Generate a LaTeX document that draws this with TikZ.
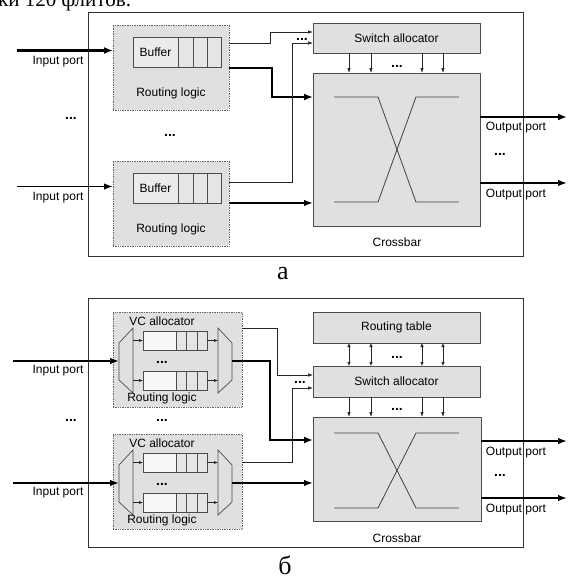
\documentclass[tikz,border=0pt]{standalone}
\usepackage{fontspec}
\setmainfont{Liberation Sans}
\newfontfamily\serifcyr{Liberation Serif}
\usetikzlibrary{arrows.meta}
\newcommand\rectnode[6]{\node[#1, anchor=north west, inner sep=0pt, outer sep=0pt, minimum width={(#5)-(#3)}, minimum height={(#6)-(#4)}] (#2) at (#3,#4) {};}
\newcommand\BufPort[2]{%
\begin{scope}[shift={(0,#2)}]
\rectnode{portbox}{#1}{113}{0}{229}{85}
\rectnode{qlab}{#1b}{133}{12}{178}{42}
\rectnode{qcell}{#1c1}{178}{12}{193}{42}
\rectnode{qcell}{#1c2}{193}{12}{207}{42}
\rectnode{qcell}{#1c3}{207}{12}{221}{42}
\node[lbl] at (#1b.center) {Buffer};
\node[lbl] (#1rl) at (171,68) {Routing logic};
\coordinate (#1src) at (17,25.5);
\node[lbl] (#1ip) at (58,37) {Input port};
\end{scope}}
\newcommand\VCPort[2]{%
\begin{scope}[shift={(0,#2)}]
\rectnode{portbox}{#1}{113}{0}{242}{95}
\node[lbl] (#1vc) at (162,9.5) {VC allocator};
\draw[unit] (119,31) -- (133,16) -- (133,81) -- (119,68) -- cycle;
\draw[unit] (218,16) -- (232,31) -- (232,68) -- (218,81) -- cycle;
\coordinate (#1dmx) at (119,49);
\coordinate (#1mx) at (232,49);
\rectnode{qwhite}{#1qa}{143}{19}{176}{38}
\rectnode{qcell}{#1qa1}{176}{19}{186}{38}
\rectnode{qcell}{#1qa2}{186}{19}{197}{38}
\rectnode{qcell}{#1qa3}{197}{19}{207}{38}
\rectnode{qwhite}{#1qb}{143}{59}{176}{78}
\rectnode{qcell}{#1qb1}{176}{59}{186}{78}
\rectnode{qcell}{#1qb2}{186}{59}{197}{78}
\rectnode{qcell}{#1qb3}{197}{59}{207}{78}
\coordinate (#1d1) at (133,28.5);
\coordinate (#1d2) at (133,68.5);
\coordinate (#1m1) at (218,28.5);
\coordinate (#1m2) at (218,68.5);
\draw[tinyarr] (#1d1) -- (#1qa.west |- #1d1);
\draw[tinyarr] (#1d2) -- (#1qb.west |- #1d2);
\draw[tinyarr] (#1qa3.east |- #1m1) -- (#1m1);
\draw[tinyarr] (#1qb3.east |- #1m2) -- (#1m2);
\node[dots] at (162,50) {...};
\node[lbl] (#1rl) at (162,86) {Routing logic};
\coordinate (#1src) at (13,49);
\node[lbl] (#1ip) at (58,59) {Input port};
\end{scope}}
\begin{document}
\begin{tikzpicture}[x=1pt,y=-1pt,
  font=\fontsize{12}{14}\selectfont,
  outer/.style={draw=black!80, line width=0.8pt},
  portbox/.style={draw=black!60, densely dotted, fill=black!12, line width=0.7pt},
  unit/.style={draw=black!70, fill=black!12, line width=0.7pt},
  qlab/.style={draw=black!70, fill=black!8, line width=0.6pt},
  qwhite/.style={draw=black!70, fill=black!3, line width=0.6pt},
  qcell/.style={draw=black!70, fill=black!10, line width=0.6pt},
  xline/.style={draw=black!75, line width=0.8pt},
  thinarr/.style={draw=black!85, line width=0.6pt, -{Latex[length=5pt,width=3.5pt]}},
  thinline/.style={draw=black!85, line width=0.6pt},
  tinyarr/.style={draw=black!85, line width=0.5pt, -{Latex[length=4pt,width=3pt]}},
  dblarr/.style={draw=black!85, line width=0.6pt, {Latex[length=4pt,width=3.5pt]}-{Latex[length=4pt,width=3.5pt]}},
  thickarr/.style={line width=2.3pt, -{Latex[length=9pt,width=7pt]}},
  medarr/.style={line width=1.6pt, -{Latex[length=9pt,width=6.5pt]}},
  lbl/.style={inner sep=0pt},
  dots/.style={inner sep=0pt, font=\bfseries\fontsize{14}{16}\selectfont},
  captxt/.style={inner sep=0pt, font=\serifcyr\fontsize{26}{28}\selectfont}]
\useasboundingbox (0,0) rectangle (571,582);
\clip (0,0) rectangle (571,582);
\fill[white] (0,0) rectangle (571,582);
\node[anchor=base west, inner sep=0pt, font=\serifcyr\fontsize{21}{24}\selectfont] (toptext) at (-2,6) {ки 120 флитов.};

% ================= panel a =================
\rectnode{outer}{outA}{88}{12}{523}{256}
\BufPort{pA1}{25}
\BufPort{pA2}{161}
\rectnode{unit}{saA}{313}{23}{480}{53}
\node[lbl] at (saA.center) {Switch allocator};
\rectnode{unit}{cbA}{313}{73}{480}{226}
\node[lbl] (cbAl) at (397,242) {Crossbar};
\draw[xline] (334,97) -- (378,97) -- (416,202) -- (459,202);
\draw[xline] (459,97) -- (416,97) -- (378,202) -- (334,202);
\foreach \x in {349,371,422,443} \draw[thinarr] (saA.south -| \x,0) -- (cbA.north -| \x,0);
\node[dots] at (397,66) {...};
% inputs
\draw[thickarr] (pA1src) -- (pA1src -| pA1.west);
\draw[medarr] (pA2src) -- (pA2src -| pA2.west);
\node[dots] at (71,118) {...};
\node[dots] at (170,135) {...};
% connectors
\coordinate (saAi1) at (313,32);
\coordinate (saAi2) at (313,43);
\coordinate (cbAi1) at (313,97);
\coordinate (cbAi2) at (313,203);
\draw[thinarr] (pA1.east |- 0,43) -- ++(41,0) |- (saAi1);
\draw[thickarr] (pA1.east |- 0,68) -- ++(43,0) |- (cbAi1);
\draw[thinarr] (pA2.east |- 0,182) -- ++(63,0) |- (saAi2);
\draw[medarr] (pA2.east |- cbAi2) -- (cbAi2);
\node[dots] at (302,39) {...};
% outputs
\coordinate (aOut1) at (567,117);
\coordinate (aOut2) at (567,183);
\draw[thickarr] (cbA.east |- aOut1) -- (aOut1);
\draw[medarr] (cbA.east |- aOut2) -- (aOut2);
\node[lbl] at (516,128) {Output port};
\node[lbl] at (516,195) {Output port};
\node[dots] at (500,154) {...};
\node[captxt] at (283,274) {а};

% ================= panel b =================
\rectnode{outer}{outB}{88}{298}{523}{547}
\VCPort{pB1}{312}
\VCPort{pB2}{434}
\rectnode{unit}{rtB}{313}{312}{480}{343}
\node[lbl] at (rtB.center) {Routing table};
\rectnode{unit}{saB}{313}{366}{480}{397}
\node[lbl] at (saB.center) {Switch allocator};
\rectnode{unit}{cbB}{313}{417}{481}{521}
\node[lbl] (cbBl) at (397,538) {Crossbar};
\draw[xline] (334,433) -- (378,433) -- (416,508) -- (459,508);
\draw[xline] (459,433) -- (416,433) -- (378,508) -- (334,508);
\foreach \x in {349,371,422,443} {
  \draw[dblarr] (rtB.south -| \x,0) -- (saB.north -| \x,0);
  \draw[thinarr] (saB.south -| \x,0) -- (cbB.north -| \x,0);
}
\node[dots] at (397,357) {...};
\node[dots] at (397,409) {...};
% inputs
\draw[medarr] (pB1src) -- (pB1dmx);
\draw[medarr] (pB2src) -- (pB2dmx);
\node[dots] at (71,420) {...};
\node[dots] at (162,420) {...};
% connectors
\coordinate (saBi1) at (313,375);
\coordinate (saBi2) at (313,388);
\coordinate (cbBi1) at (313,440);
\coordinate (cbBi2) at (313,483);
\draw[thinarr] (pB1.east |- 0,328) -- ++(35,0) |- (saBi1);
\draw[thickarr] (pB1mx) -- ++(38,0) |- (cbBi1);
\draw[thinarr] (pB2.east |- 0,462) -- ++(50,0) |- (saBi2);
\draw[medarr] (pB2mx) -- (cbBi2);
\node[dots] at (300,382) {...};
% outputs
\coordinate (bOut1) at (567,441);
\coordinate (bOut2) at (567,498);
\draw[medarr] (cbB.east |- bOut1) -- (bOut1);
\draw[medarr] (cbB.east |- bOut2) -- (bOut2);
\node[lbl] at (516,453) {Output port};
\node[lbl] at (516,510) {Output port};
\node[dots] at (500,475) {...};
\node[captxt] at (285,565) {б};
\end{tikzpicture}
\end{document}
